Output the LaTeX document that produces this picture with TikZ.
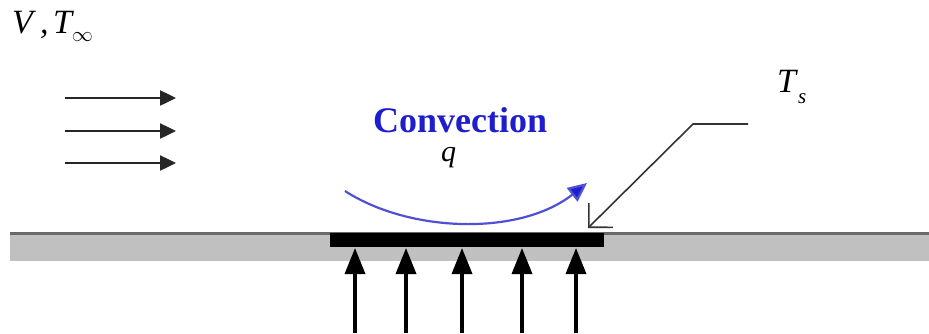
\documentclass[tikz,border=0pt]{standalone}
\usepackage{fontspec}
\setmainfont{Liberation Serif}
\usetikzlibrary{arrows.meta}
\definecolor{convblue}{RGB}{30,30,205}
\definecolor{arcblue}{RGB}{80,80,215}
\definecolor{plategray}{RGB}{192,192,192}
\definecolor{edgegray}{RGB}{105,105,105}
\tikzset{
  flow/.style={line width=2.5pt, draw=black!85, -{Triangle[length=16pt,width=15pt]}},
  heat/.style={line width=3.5pt, draw=black, -{Triangle[length=26pt,width=20pt]}},
  leader/.style={line width=1.6pt, draw=black!80, -{Straight Barb[length=17pt,width=34pt,line width=1.6pt]}},
  lbl/.style={inner sep=0pt, anchor=base west, text depth=0pt, font=\fontsize{34}{40}\selectfont\itshape},
  sub/.style={inner sep=0pt, anchor=base west, text depth=0pt, font=\fontsize{21}{24}\selectfont\itshape}
}
\begin{document}
\begin{tikzpicture}[x=1pt,y=-1pt]
\useasboundingbox (0,0) rectangle (929,333);
% plate
\fill[plategray] (10,233) rectangle (929,261);
\draw[edgegray, line width=2.5pt] (10,233.5) -- (929,233.5);
\fill[black] (330,233) rectangle (604,247);
% labels
\node[lbl] (V) at (12,33) {V};
\node[lbl] (comma) at (40,33) {,};
\node[lbl] (T) at (53,33) {T};
\node[inner sep=0pt, anchor=base west, text depth=0pt] (inf) at (72,41) {\fontsize{21}{24}\selectfont$\infty$};
\node[lbl] (Ts) at (777,92) {T};
\node[sub] (s) at (798,103) {s};
\node[inner sep=0pt, anchor=base west, text depth=0pt, text=convblue, font=\fontsize{36}{40}\selectfont\bfseries] (conv) at (373,132) {Convection};
\node[lbl, font=\fontsize{30}{34}\selectfont\itshape, text height=13pt] (q) at (441,161) {q};
% flow arrows
\coordinate (f1a) at (65,98);  \coordinate (f1b) at (176,98);
\coordinate (f2a) at (65,131); \coordinate (f2b) at (176,131);
\coordinate (f3a) at (65,163); \coordinate (f3b) at (176,163);
\draw[flow] (f1a) -- (f1b);
\draw[flow] (f2a) -- (f2b);
\draw[flow] (f3a) -- (f3b);
% convection arc
\coordinate (c0) at (345,191);
\coordinate (c1) at (587,183);
\draw[arcblue, line width=2.2pt, -{Triangle[length=19pt,width=17pt,fill=convblue]}] (c0) .. controls (410,233) and (520,236) .. (c1);
% leader to T_s
\coordinate (l0) at (748,124);
\coordinate (l1) at (693,124);
\coordinate (l2) at (588,228);
\draw[leader] (l0) -- (l1) -- (l2);
% heat arrows
\foreach \x [count=\i] in {355,406,462,522,576}{
  \coordinate (h\i a) at (\x,333);
  \coordinate (h\i b) at (\x,248);
  \draw[heat] (h\i a) -- (h\i b);
}
\end{tikzpicture}
\end{document}
